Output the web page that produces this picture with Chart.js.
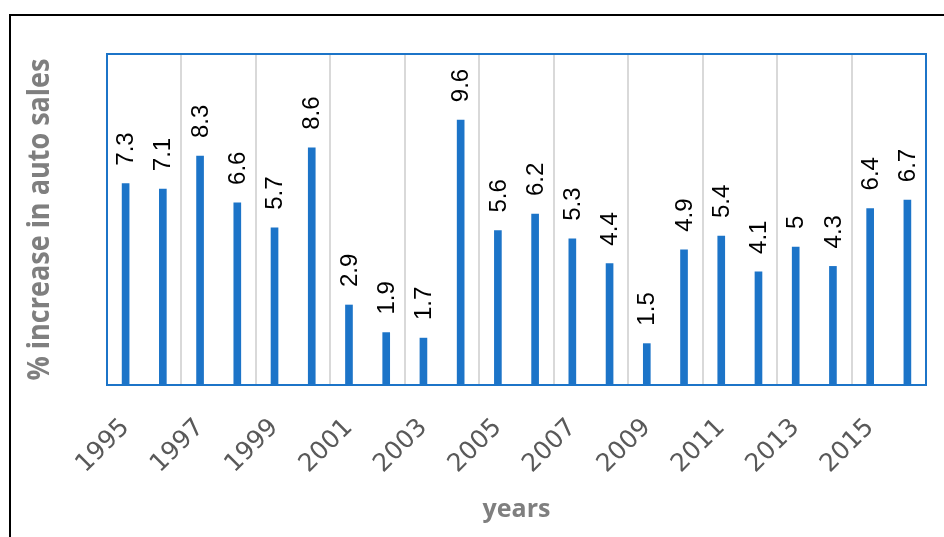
<!DOCTYPE html>
<html>
<head>
<meta charset="utf-8">
<script src="https://cdn.jsdelivr.net/npm/chart.js@4.4.1/dist/chart.umd.min.js"></script>
<style>
  html, body { margin: 0; padding: 0; background: #ffffff; }
  #wrap { position: relative; width: 944px; height: 537px; }
</style>
</head>
<body>
<div id="wrap"><canvas id="c" width="944" height="537"></canvas></div>
<script>
// Annual percentage increase in auto sales
const years = ['1995', '1996', '1997', '1998', '1999', '2000', '2001', '2002', '2003', '2004', '2005',
               '2006', '2007', '2008', '2009', '2010', '2011', '2012', '2013', '2014', '2015', '2016'];
const salesIncrease = [7.3, 7.1, 8.3, 6.6, 5.7, 8.6, 2.9, 1.9, 1.7, 9.6, 5.6,
                       6.2, 5.3, 4.4, 1.5, 4.9, 5.4, 4.1, 5, 4.3, 6.4, 6.7];
const yRange = [0, 12];
const xTitle = 'years';
const yTitle = '% increase in auto sales';

const BAR_BLUE = '#1c74c8';
const GRID_GREY = '#d9d9d9';
const TITLE_GREY = '#7f7f7f';
const TICK_GREY = '#595959';

// Outer frame, plot border and axis titles
const framePlugin = {
  id: 'frame',
  beforeDraw(chart) {
    const ctx = chart.ctx;
    ctx.save();
    ctx.fillStyle = '#ffffff';
    ctx.fillRect(0, 0, chart.width, chart.height);
    ctx.fillStyle = '#000000';
    ctx.fillRect(9, 14, chart.width - 9, 2);
    ctx.fillRect(9, 14, 2, chart.height - 14);
    ctx.restore();
  },
  afterDraw(chart) {
    const ctx = chart.ctx;
    const a = chart.chartArea;
    ctx.save();
    ctx.strokeStyle = BAR_BLUE;
    ctx.lineWidth = 2;
    ctx.strokeRect(a.left, a.top, a.right - a.left, a.bottom - a.top);

    ctx.fillStyle = TITLE_GREY;
    ctx.textAlign = 'center';
    ctx.textBaseline = 'middle';
    ctx.font = 'bold 25px "Open Sans"';
    ctx.fillText(xTitle, (a.left + a.right) / 2, 510);

    ctx.translate(40, (a.top + a.bottom) / 2);
    ctx.rotate(-Math.PI / 2);
    ctx.scale(1, 1.15);
    ctx.font = 'bold 27px "Open Sans"';
    ctx.fillText(yTitle, 0, 0);
    ctx.restore();
  }
};

// Vertical value labels above each bar
const valueLabelPlugin = {
  id: 'valueLabels',
  afterDatasetsDraw(chart) {
    const ctx = chart.ctx;
    const meta = chart.getDatasetMeta(0);
    meta.data.forEach((bar, i) => {
      ctx.save();
      ctx.translate(bar.x + 1, bar.y - 18);
      ctx.rotate(-Math.PI / 2);
      ctx.font = '24px "Liberation Sans"';
      ctx.fillStyle = '#000000';
      ctx.textAlign = 'left';
      ctx.textBaseline = 'middle';
      ctx.fillText(String(salesIncrease[i]), 0, 0);
      ctx.restore();
    });
  }
};

new Chart(document.getElementById('c'), {
  type: 'bar',
  data: {
    labels: years,
    datasets: [{
      data: salesIncrease,
      backgroundColor: BAR_BLUE,
      borderWidth: 0,
      barThickness: 7
    }]
  },
  options: {
    responsive: false,
    devicePixelRatio: 1,
    animation: false,
    events: [],
    layout: { padding: { left: 107, top: 54, right: 18, bottom: 0 } },
    plugins: { legend: { display: false }, tooltip: { enabled: false } },
    scales: {
      x: {
        offset: true,
        border: { display: false },
        grid: {
          offset: true,
          drawTicks: false,
          lineWidth: 2,
          color: (ctx) => (ctx.index % 2 === 0 ? GRID_GREY : 'rgba(0,0,0,0)')
        },
        ticks: {
          autoSkip: false,
          minRotation: 45,
          maxRotation: 45,
          padding: 28,
          color: TICK_GREY,
          font: { family: '"DejaVu Sans"', size: 25 },
          callback: (value, index) => (index % 2 === 0 ? years[index] : '')
        },
        afterFit: (scale) => {
          scale.height = 152;
          scale.paddingLeft = 0;
          scale.paddingRight = 0;
        }
      },
      y: {
        display: false,
        min: yRange[0],
        max: yRange[1]
      }
    }
  },
  plugins: [framePlugin, valueLabelPlugin]
});
</script>
</body>
</html>
